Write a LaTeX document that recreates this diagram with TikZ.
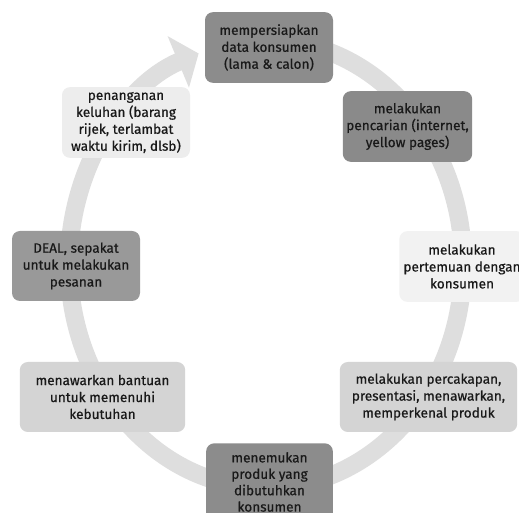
\documentclass[tikz,border=0pt]{standalone}
\usepackage{fontspec}
\setmainfont{Fira Sans}
\newfontfamily\boxfont{Fira Sans}[FakeBold=0.6]
\usetikzlibrary{arrows.meta}
\begin{document}
\begin{tikzpicture}[x=0.75pt,y=-0.75pt,
        box/.style={rounded corners=6pt,align=center,inner sep=2pt,text=black!90,font=\boxfont\fontsize{10.2}{12.7}\selectfont},
        ring/.style={line width=13.5pt,draw=black!13,-{Triangle[length=16.5pt,width=41pt]}}]
                \useasboundingbox[fill=white] (0,0) rectangle (519,513);
                \clip (0,0) rectangle (519,513);
                \coordinate (ctr) at (266,264);
                \draw[ring] ([shift={(-80:197 and 224)}]ctr) arc[start angle=-80,end angle=250,x radius=197,y radius=224];
                \node[box,fill=black!45,minimum width=96pt,minimum height=53pt] (data) at (269,47.5) {mempersiapkan\\data konsumen\\(lama \& calon)};
                \node[box,fill=black!46,minimum width=97pt,minimum height=53pt] (cari) at (407.5,126.5) {melakukan\\pencarian (internet,\\yellow pages)};
                \node[box,fill=black!5,minimum width=94pt,minimum height=53pt] (temu) at (462,266.5) {melakukan\\pertemuan dengan\\konsumen};
                \node[box,fill=black!17,minimum width=133pt,minimum height=52.5pt] (cakap) at (428.5,397) {melakukan percakapan,\\presentasi, menawarkan,\\memperkenal produk};
                \node[box,fill=black!45,minimum width=95pt,minimum height=58pt,font=\boxfont\fontsize{10.2}{12.3}\selectfont] (produk) at (269.5,482) {menemukan\\produk yang\\dibutuhkan\\konsumen};
                \node[box,fill=black!17,minimum width=124pt,minimum height=52.5pt] (tawar) at (102.5,397) {menawarkan bantuan\\untuk memenuhi\\kebutuhan};
                \node[box,fill=black!40,minimum width=96pt,minimum height=52.5pt] (deal) at (76,266) {DEAL, sepakat\\untuk melakukan\\pesanan};
                \node[box,fill=black!7,minimum width=96pt,minimum height=53pt] (keluhan) at (126,122.5) {penanganan\\keluhan (barang\\rijek, terlambat\\waktu kirim, dlsb)};

                \end{tikzpicture}
\end{document}
